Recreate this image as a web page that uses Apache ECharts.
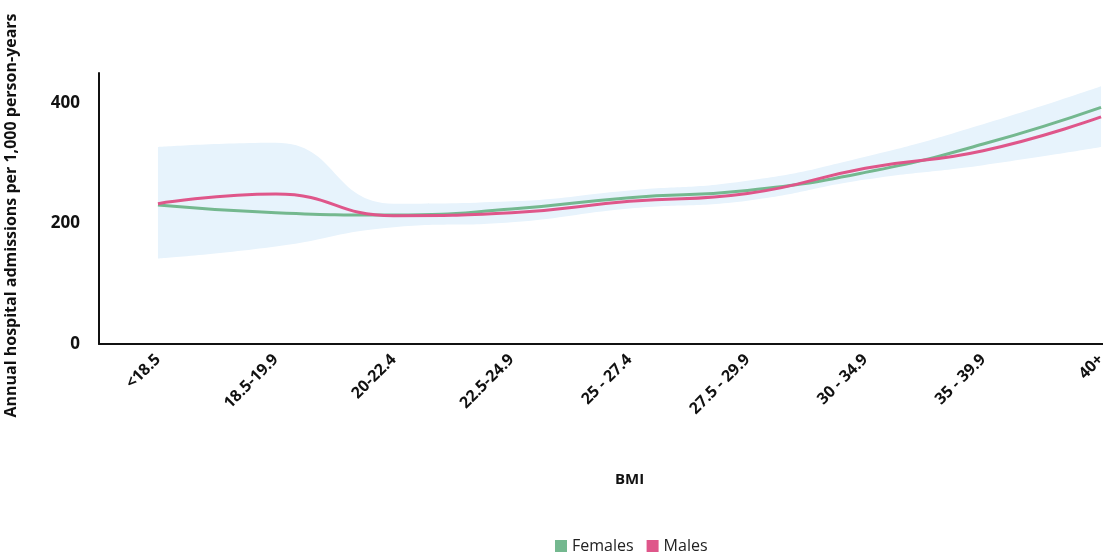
<!DOCTYPE html>
<html>
<head>
<meta charset="utf-8">
<script src="https://cdn.jsdelivr.net/npm/echarts@6/dist/echarts.min.js"></script>
<style>
  html, body { margin: 0; padding: 0; background: #fff; }
  #main { width: 1103px; height: 552px; }
</style>
</head>
<body>
<div id="main"></div>
<script>
var categories = ['<18.5', '18.5-19.9', '20-22.4', '22.5-24.9', '25 - 27.4', '27.5 - 29.9', '30 - 34.9', '35 - 39.9', '40+'];
var females = [231, 218, 214, 224, 243, 255, 285, 332, 393];
var males = [233, 249, 213, 218, 237, 250, 292, 321, 377];
var bandLower = [142, 162, 194, 202, 225, 238, 273, 297, 327];
var bandUpper = [327, 334, 233, 237, 255, 271, 311, 365, 428];

// the band is drawn as lower edge + (upper - lower) stacked on top
var bandWidth = bandUpper.map(function (v, i) { return v - bandLower[i]; });

var font = '"Open Sans", Lato, sans-serif';

var chart = echarts.init(document.getElementById('main'));

chart.setOption({
  animation: false,
  textStyle: { fontFamily: font },
  grid: { left: 99, right: -57, top: 73, bottom: 208, containLabel: false, outerBoundsMode: 'none' },
  legend: {
    data: ['Females', 'Males'],
    left: 550,
    top: 533,
    icon: 'rect',
    itemWidth: 12,
    itemHeight: 12,
    itemGap: 13,
    textStyle: { fontFamily: font, fontSize: 16, color: '#222' }
  },
  xAxis: {
    type: 'category',
    data: categories,
    boundaryGap: true,
    name: 'BMI',
    nameLocation: 'middle',
    nameGap: 128,
    nameTextStyle: { fontFamily: font, fontSize: 15, fontWeight: 'bold', color: '#111' },
    axisLine: { lineStyle: { color: '#111', width: 2 } },
    axisTick: { show: false },
    axisLabel: {
      rotate: 45,
      margin: 13,
      interval: 0,
      fontFamily: font,
      fontSize: 16,
      fontWeight: 'bold',
      color: '#111'
    },
    splitLine: { show: false }
  },
  yAxis: {
    type: 'value',
    min: 0,
    max: 450,
    interval: 200,
    name: 'Annual hospital admissions per 1,000 person-years',
    nameLocation: 'middle',
    nameGap: 80,
    nameRotate: 90,
    nameTextStyle: { fontFamily: font, fontSize: 16, fontWeight: 'bold', color: '#111', padding: [0, 14, 0, 0] },
    axisLine: { show: true, lineStyle: { color: '#111', width: 2 } },
    axisTick: { show: false },
    axisLabel: {
      margin: 19,
      showMaxLabel: false,
      fontFamily: font,
      fontSize: 17,
      fontWeight: 'bold',
      color: '#111'
    },
    splitLine: { show: false }
  },
  series: [
    {
      name: 'bandLower',
      type: 'line',
      stack: 'band',
      data: bandLower,
      smooth: 0.5,
      symbol: 'none',
      lineStyle: { opacity: 0 },
      silent: true
    },
    {
      name: 'bandWidth',
      type: 'line',
      stack: 'band',
      data: bandWidth,
      smooth: 0.5,
      symbol: 'none',
      lineStyle: { opacity: 0 },
      areaStyle: { color: '#e7f3fc', opacity: 1 },
      silent: true
    },
    {
      name: 'Females',
      type: 'line',
      data: females,
      smooth: 0.5,
      symbol: 'none',
      itemStyle: { color: '#74b88f' },
      lineStyle: { color: '#74b88f', width: 3 }
    },
    {
      name: 'Males',
      type: 'line',
      data: males,
      smooth: 0.5,
      symbol: 'none',
      itemStyle: { color: '#df568a' },
      lineStyle: { color: '#df568a', width: 3 }
    }
  ]
});
</script>
</body>
</html>
